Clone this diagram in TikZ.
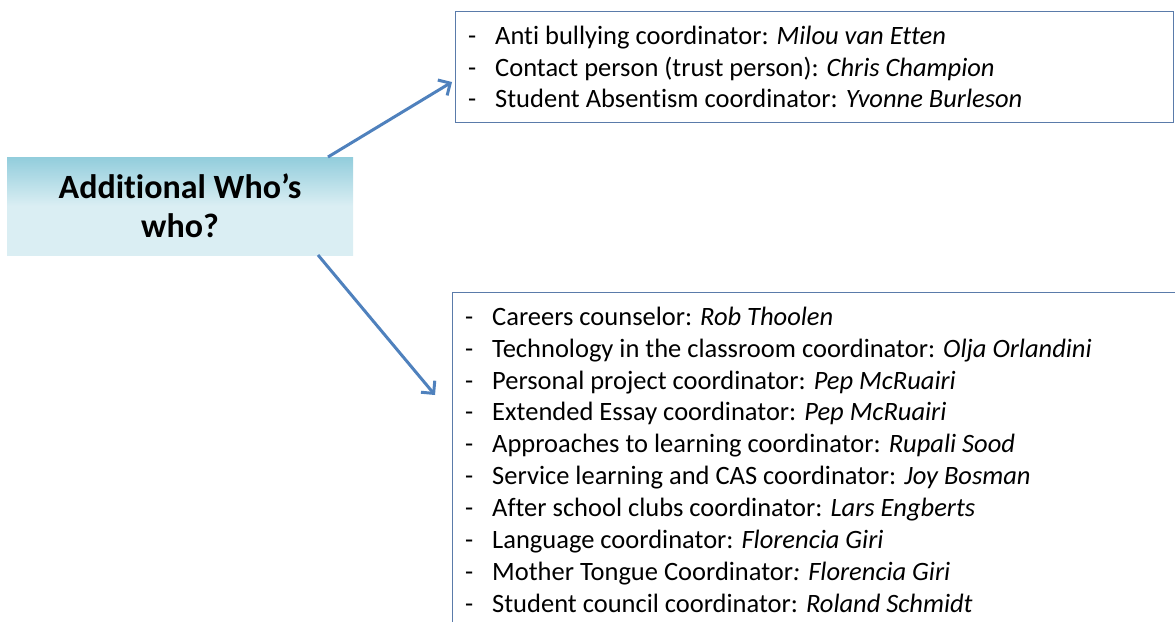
\documentclass[tikz,border=0pt]{standalone}
\usepackage{fontspec}
\setmainfont{Carlito}[Ligatures=NoCommon]
\usetikzlibrary{arrows.meta,calc}
\definecolor{arrowblue}{HTML}{4F81BD}
\definecolor{boxline}{HTML}{5A7BAA}
\definecolor{tealtop}{HTML}{92CDDC}
\definecolor{teallight}{HTML}{DAEEF3}
\tikzset{
  listbox/.style={draw=boxline,line width=1.2pt,fill=white,inner sep=0pt},
  item/.style={anchor=base west,inner sep=0pt,font=\fontsize{26.5}{30}\selectfont},
  dashmark/.style={anchor=base west,inner sep=0pt,font=\fontsize{26.5}{30}\selectfont},
  conn/.style={draw=arrowblue,line width=3pt,-{Straight Barb[length=9pt,width=18pt,line width=3pt]}},
}
\begin{document}
\begin{tikzpicture}[x=1pt,y=-1pt]
\useasboundingbox (0,0) rectangle (1175,621);
\clip (0,0) rectangle (1175,621);
% main box
\shade[top color=tealtop,bottom color=teallight,middle color=teallight,shading angle=0] (7,157) rectangle (353,255);
\node[minimum width=346pt,minimum height=98pt,inner sep=0pt,align=center,font=\bfseries\fontsize{34}{39}\selectfont] (main) at (180,206) {Additional Who’s\\who?};
% top box
\node[listbox,anchor=north west,minimum width=718pt,minimum height=111pt] (top) at (455,11) {};
% bottom box
\node[listbox,anchor=north west,minimum width=740pt,minimum height=360pt] (bot) at (452,292) {};
% top items
\foreach \y/\t/\n [count=\i] in {44/Anti bullying coordinator: /Milou van Etten,
  76/Contact person (trust person): /Chris Champion,
  107/Student Absentism coordinator: /Yvonne Burleson}{
  \node[dashmark] (td\i) at (468,\y) {-};
  \node[item] (ti\i) at (495,\y) {\t\textit{\n}};
}
% bottom items
\foreach \y/\t/\n [count=\i] in {325/Careers counselor: /Rob Thoolen,
  357/Technology in the classroom coordinator: /Olja Orlandini,
  389/Personal project coordinator: /Pep McRuairi,
  420/Extended Essay coordinator: /Pep McRuairi,
  452/Approaches to learning coordinator: /Rupali Sood,
  484/Service learning and CAS coordinator: /Joy Bosman,
  516/After school clubs coordinator: /Lars Engberts,
  548/Language coordinator: /Florencia Giri,
  580/Mother Tongue Coordinator/: Florencia Giri,
  612/Student council coordinator: /Roland Schmidt}{
  \node[dashmark] (bd\i) at (465,\y) {-};
  \node[item] (bi\i) at (492,\y) {\t\textit{\n}};
}
% connectors
\coordinate (s1) at (328,157);
\coordinate (e1) at (452,82);
\coordinate (s2) at (318,255);
\coordinate (e2) at (435,395);
\draw[conn] (s1) -- (e1);
\draw[conn] (s2) -- (e2);
\end{tikzpicture}
\end{document}
